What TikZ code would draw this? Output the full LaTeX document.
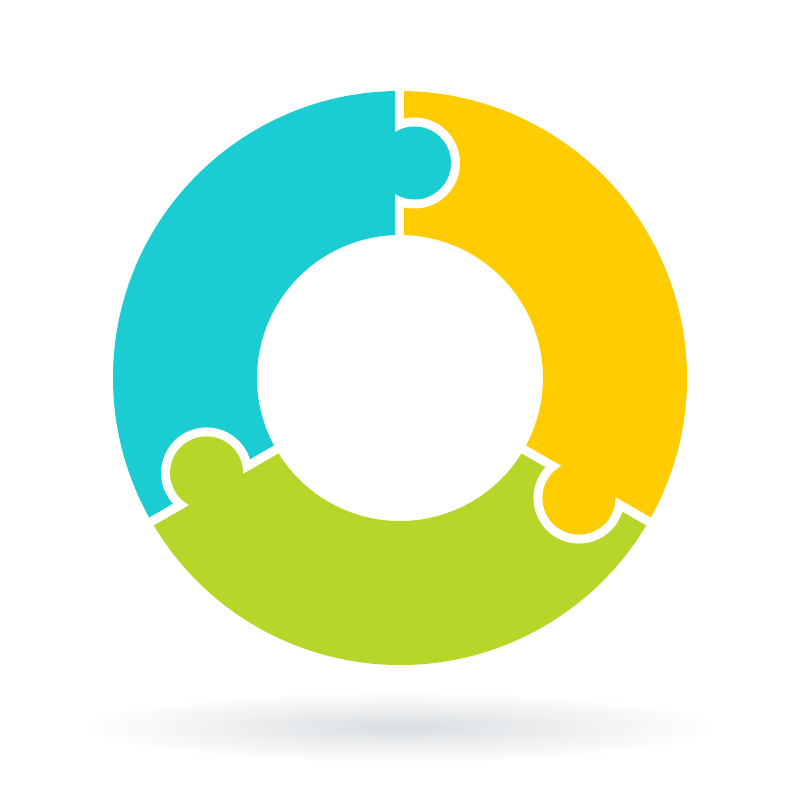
\documentclass[tikz,border=0pt]{standalone}
\definecolor{pzcyan}{HTML}{1BCDD2}
\definecolor{pzyellow}{HTML}{FFCC00}
\definecolor{pzgreen}{HTML}{B6D62A}
\definecolor{pzshadow}{HTML}{DADEE1}
\begin{document}
\begin{tikzpicture}[x=0.25mm,y=0.25mm,
  gapline/.style={white,line width=2.25mm},
  shadow/.style={inner color=pzshadow,outer color=white}]

  \useasboundingbox (-400,-422) rectangle (400,378);

%draw shadow under the ring
  \shade[shadow] (0,-349) ellipse (320 and 36);

%draw the three pieces of the ring
  \foreach \a/\b/\col in {90/210/pzcyan, -30/90/pzyellow, 210/330/pzgreen}
    \fill[\col] (\a:287) arc (\a:\b:287) -- (\b:143) arc (\b:\a:143) -- cycle;

%draw joints with knobs
  \foreach \rot/\col in {0/pzcyan, -120/pzyellow, 120/pzgreen} {
    \begin{scope}[rotate=\rot]
      \draw[gapline] (0,120) -- (0,310);
      \begin{scope}
        \clip (0,0) rectangle (320,320);
        \fill[white] (14.5,215) circle (45.5);
      \end{scope}
      \fill[\col] (14.5,215) circle (36.5);
    \end{scope} }

\end{tikzpicture}
\end{document}
